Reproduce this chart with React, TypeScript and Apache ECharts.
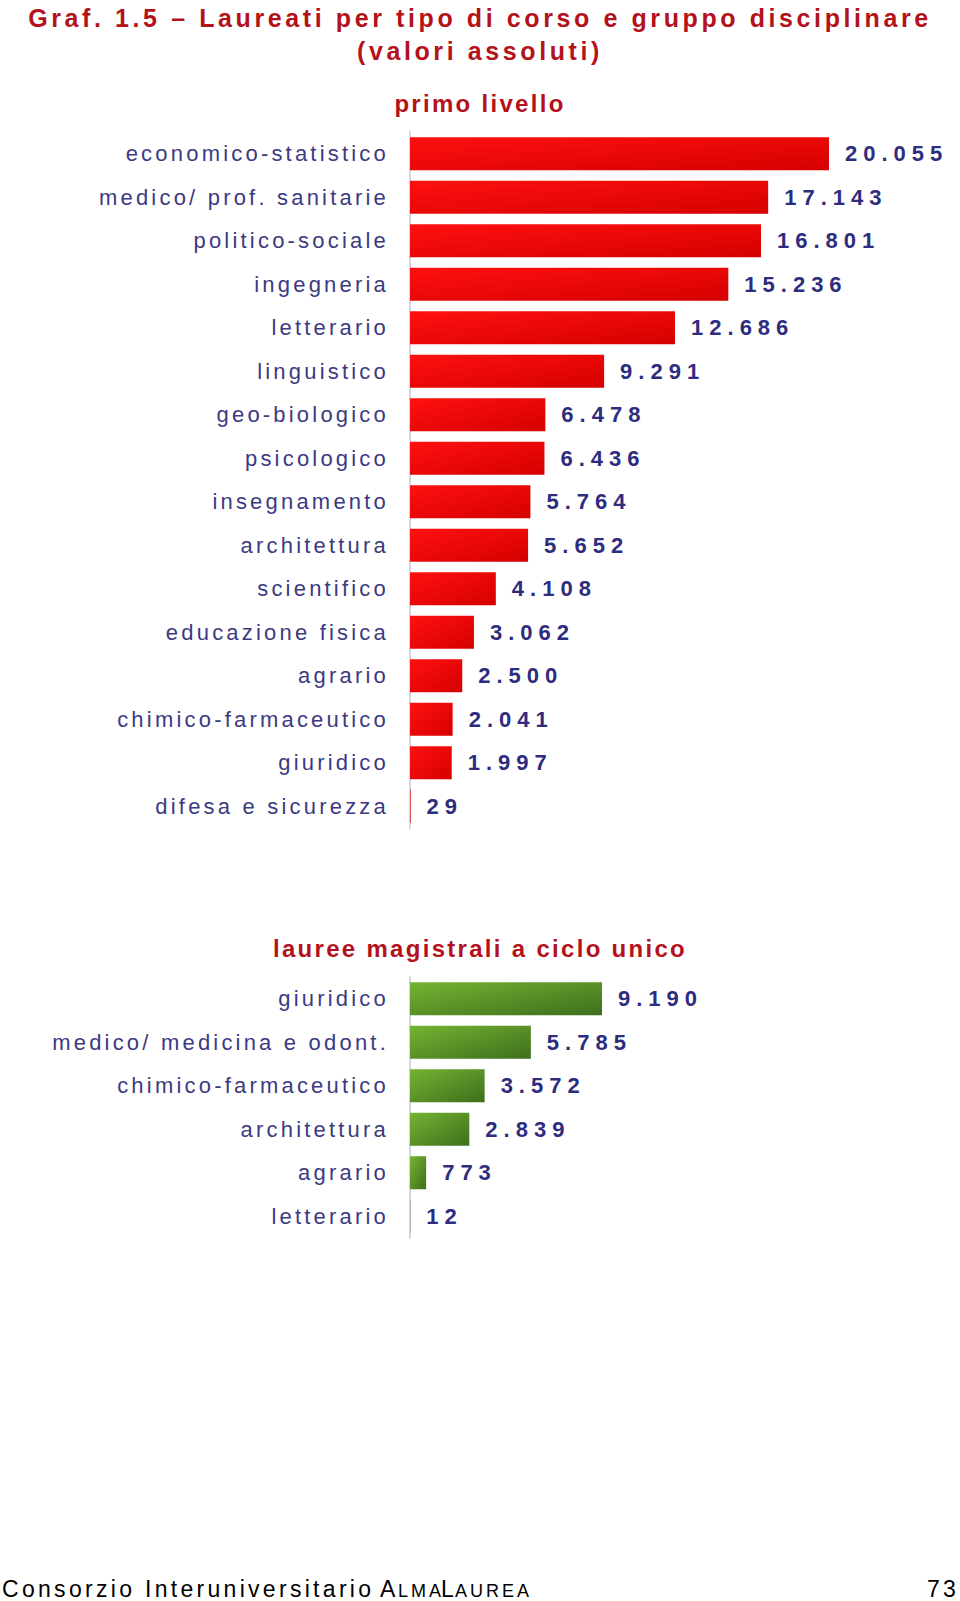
import React, { useEffect, useRef } from "react";
import * as echarts from "echarts";

// ---- data ----
const primoCategories = [
  "economico-statistico",
  "medico/ prof. sanitarie",
  "politico-sociale",
  "ingegneria",
  "letterario",
  "linguistico",
  "geo-biologico",
  "psicologico",
  "insegnamento",
  "architettura",
  "scientifico",
  "educazione fisica",
  "agrario",
  "chimico-farmaceutico",
  "giuridico",
  "difesa e sicurezza",
];
const primoValues = [20055, 17143, 16801, 15236, 12686, 9291, 6478, 6436, 5764, 5652, 4108, 3062, 2500, 2041, 1997, 29];

const cicloCategories = [
  "giuridico",
  "medico/ medicina e odont.",
  "chimico-farmaceutico",
  "architettura",
  "agrario",
  "letterario",
];
const cicloValues = [9190, 5785, 3572, 2839, 773, 12];

const titleLine1 = "Graf. 1.5 – Laureati per tipo di corso e gruppo disciplinare";
const titleLine2 = "(valori assoluti)";
const subtitlePrimo = "primo livello";
const subtitleCiclo = "lauree magistrali a ciclo unico";
const footerText = "Consorzio Interuniversitario";
const pageNumber = "73";

// ---- styles ----
const FONT = "'Liberation Sans', Arial, Helvetica, sans-serif";
const TITLE_RED = "#b3121b";
const SUB_RED = "#b3121c";
const VALUE_COLOR = "#2e2c7e";
const CAT_COLOR = "#3b3a82";
const FOOT_COLOR = "#000000";
const FOOT_SMALL = "#000001";

const css = `
.alma-chart text[fill="${TITLE_RED}"] { letter-spacing: 3.6px; }
.alma-chart text[fill="${SUB_RED}"] { letter-spacing: 2.3px; }
.alma-chart text[fill="${VALUE_COLOR}"] { letter-spacing: 6px; }
.alma-chart text[fill="${CAT_COLOR}"] { letter-spacing: 3.2px; }
.alma-chart text[fill="${FOOT_COLOR}"] { letter-spacing: 3.3px; }
.alma-chart text[fill="${FOOT_SMALL}"] { letter-spacing: 3px; }
`;

const fmt = (v: number) => String(v).replace(/\B(?=(\d{3})+(?!\d))/g, ".");

const redGradient = new echarts.graphic.LinearGradient(0, 0, 1, 1, [
  { offset: 0, color: "#ff1010" },
  { offset: 1, color: "#d50000" },
]);
const greenGradient = new echarts.graphic.LinearGradient(0, 0, 1, 1, [
  { offset: 0, color: "#74b432" },
  { offset: 1, color: "#3f6e1c" },
]);

export default function App() {
  const ref = useRef<HTMLDivElement>(null);

  useEffect(() => {
    if (!ref.current) return;
    const chart = echarts.init(ref.current, undefined, { renderer: "svg" });
    const xMax = Math.max(...primoValues);

    const catLabel = {
      color: CAT_COLOR,
      fontSize: 22,
      fontFamily: FONT,
      margin: 21,
    };
    const valLabel = {
      show: true,
      position: "right",
      distance: 16,
      color: VALUE_COLOR,
      fontSize: 22,
      fontWeight: "bold",
      fontFamily: FONT,
      formatter: (p: any) => fmt(p.value),
    };
    const axisLine = { show: true, lineStyle: { color: "#d6d6de", width: 2 } };

    const textEl = (text: string, x: number, y: number, fill: string, fontSize: number, bold: boolean, align: string) => ({
      type: "text",
      x,
      y,
      silent: true,
      style: {
        text,
        fill,
        fontSize,
        fontWeight: bold ? "bold" : "normal",
        fontFamily: FONT,
        textAlign: align,
        textVerticalAlign: "middle",
      },
    });

    chart.setOption({
      animation: false,
      backgroundColor: "#ffffff",
      graphic: [
        textEl(titleLine1, 480, 18, TITLE_RED, 25, true, "center"),
        textEl(titleLine2, 480, 51, TITLE_RED, 25, true, "center"),
        textEl(subtitlePrimo, 480, 103, SUB_RED, 24, true, "center"),
        textEl(subtitleCiclo, 480, 948, SUB_RED, 24, true, "center"),
        textEl(footerText, 2, 1589, FOOT_COLOR, 23, false, "left"),
        textEl("A", 380, 1589, FOOT_COLOR, 23, false, "left"),
        textEl("LMA", 398, 1591, FOOT_SMALL, 18, false, "left"),
        textEl("L", 441, 1589, FOOT_COLOR, 23, false, "left"),
        textEl("AUREA", 455, 1591, FOOT_SMALL, 18, false, "left"),
        textEl(pageNumber, 927, 1589, FOOT_COLOR, 23, false, "left"),
      ],
      grid: [
        { left: 410, top: 132, width: 419, height: 696 },
        { left: 410, top: 977, width: 419, height: 261 },
      ],
      xAxis: [
        { gridIndex: 0, type: "value", min: 0, max: xMax, show: false },
        { gridIndex: 1, type: "value", min: 0, max: xMax, show: false },
      ],
      yAxis: [
        {
          gridIndex: 0,
          type: "category",
          data: primoCategories,
          inverse: true,
          axisLine,
          axisTick: { show: false },
          axisLabel: catLabel,
        },
        {
          gridIndex: 1,
          type: "category",
          data: cicloCategories,
          inverse: true,
          axisLine,
          axisTick: { show: false },
          axisLabel: catLabel,
        },
      ],
      series: [
        {
          type: "bar",
          xAxisIndex: 0,
          yAxisIndex: 0,
          data: primoValues,
          barWidth: 33,
          itemStyle: { color: redGradient },
          label: valLabel,
        },
        {
          type: "bar",
          xAxisIndex: 1,
          yAxisIndex: 1,
          data: cicloValues,
          barWidth: 33,
          itemStyle: { color: greenGradient },
          label: valLabel,
        },
      ],
    });

    return () => chart.dispose();
  }, []);

  return (
    <>
      <style>{css}</style>
      <div
        ref={ref}
        className="alma-chart"
        style={{ position: "absolute", left: 0, top: 0, width: 960, height: 1601 }}
      />
    </>
  );
}
